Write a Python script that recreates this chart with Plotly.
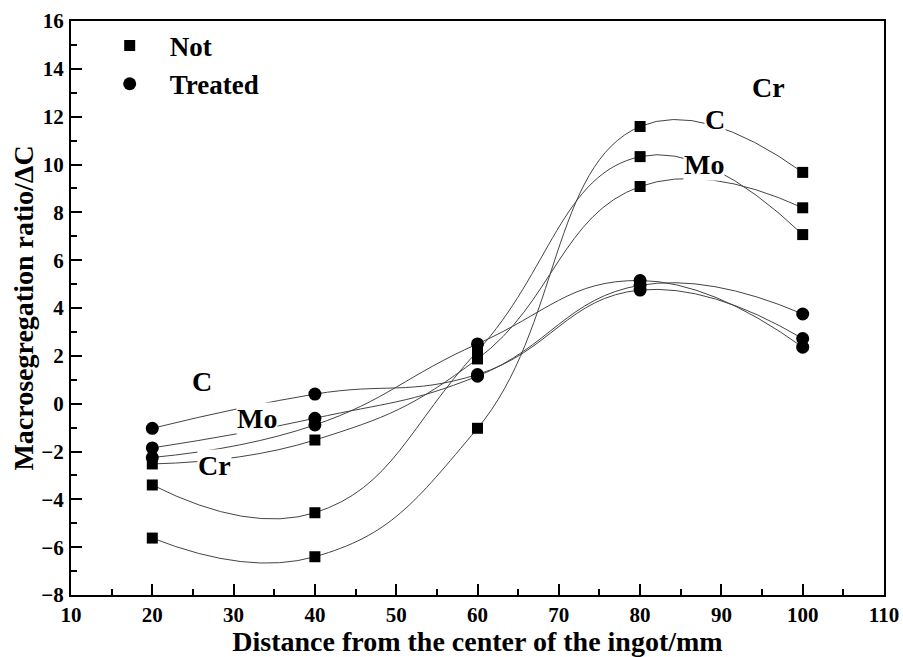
import plotly.graph_objects as go

distance = [20, 40, 60, 80, 100]

not_cr = [-5.62, -6.40, -1.03, 11.59, 9.67]
not_c = [-3.40, -4.56, 2.20, 10.33, 7.07]
not_mo = [-2.52, -1.52, 1.87, 9.08, 8.19]

trt_c = [-1.03, 0.40, 1.22, 4.75, 2.72]
trt_mo = [-1.85, -0.61, 1.15, 4.95, 3.75]
trt_cr = [-2.25, -0.89, 2.50, 5.15, 2.36]

legend_names = ["Not", "Treated"]

# element labels: (text, x, y)
label_text = ["Cr", "C", "Mo", "C", "Mo", "Cr"]
label_x = [95.8, 89.2, 87.9, 26.1, 32.9, 27.7]
label_y = [13.2, 11.9, 10.0, 0.93, -0.6, -2.6]

FONT = "Liberation Serif"
LINE = "#444444"

fig = go.Figure()

for ys in [not_cr, not_c, not_mo]:
    fig.add_trace(go.Scatter(
        x=distance, y=ys, mode="lines+markers",
        line=dict(color=LINE, width=1, shape="spline", smoothing=1.3),
        marker=dict(symbol="square", size=11, color="black"),
        showlegend=False, hoverinfo="x+y"))

for ys in [trt_c, trt_mo, trt_cr]:
    fig.add_trace(go.Scatter(
        x=distance, y=ys, mode="lines+markers",
        line=dict(color=LINE, width=1, shape="spline", smoothing=1.3),
        marker=dict(symbol="circle", size=13, color="black"),
        showlegend=False, hoverinfo="x+y"))

# legend-only entries
fig.add_trace(go.Scatter(x=[None], y=[None], mode="markers",
                         name="<b>%s</b>" % legend_names[0],
                         marker=dict(symbol="square", size=11, color="black")))
fig.add_trace(go.Scatter(x=[None], y=[None], mode="markers",
                         name="<b>%s</b>" % legend_names[1],
                         marker=dict(symbol="circle", size=13, color="black")))

for t, x, y in zip(label_text, label_x, label_y):
    fig.add_annotation(x=x, y=y, text="<b>%s</b>" % t, showarrow=False,
                       font=dict(family=FONT, size=28, color="black"),
                       bgcolor="white", borderpad=0)

axis_common = dict(
    showline=True, linewidth=2, linecolor="black", mirror=True,
    ticks="inside", ticklen=11, tickwidth=1.5, tickcolor="black",
    showgrid=False, zeroline=False, automargin=False,
    ticklabeloverflow="allow",
    tickfont=dict(family=FONT, size=21, color="black"),
)

fig.update_xaxes(
    range=[10, 110], dtick=10, tick0=10,
    minor=dict(ticks="inside", ticklen=6, tickwidth=1.5, tickcolor="black", dtick=5),
    title=dict(text="<b>Distance from the center of the ingot/mm</b>",
               font=dict(family=FONT, size=28, color="black"), standoff=2),
    ticklabelstandoff=0,
    tickprefix="<b>", ticksuffix="</b>",
    **axis_common)

fig.update_yaxes(
    range=[-8, 16], dtick=2, tick0=0,
    minor=dict(ticks="inside", ticklen=6, tickwidth=1.5, tickcolor="black", dtick=1),
    title=dict(text="<b>Macrosegregation ratio/ΔC</b>",
               font=dict(family=FONT, size=28, color="black"), standoff=0),
    ticklabelstandoff=1,
    tickprefix="<b>", ticksuffix="</b>",
    **axis_common)

fig.update_layout(
    width=903, height=657,
    margin=dict(l=71, r=19, t=21, b=62),
    paper_bgcolor="white", plot_bgcolor="white",
    legend=dict(x=0.023, y=0.999, xanchor="left", yanchor="top",
                itemwidth=70,
                font=dict(family=FONT, size=27, color="black"),
                bgcolor="rgba(0,0,0,0)", tracegroupgap=0),
    font=dict(family=FONT),
)

# remove the browser's default page margin so the figure fills the window exactly
fig.write_html("out.html",
               config={"displayModeBar": False},
               post_script="document.body.style.margin='0';"
                           "document.body.style.overflow='hidden';")
